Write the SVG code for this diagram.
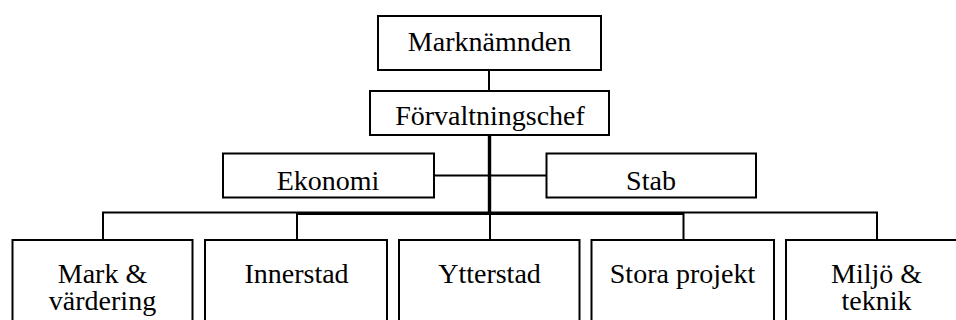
<svg xmlns="http://www.w3.org/2000/svg" width="956" height="320" viewBox="0 0 956 320">
<style>
.box{fill:#fff;stroke:#000;stroke-width:2}
.ln{fill:none;stroke:#000;stroke-width:2}
.t{font-size:28px;fill:#000;text-anchor:middle}
</style>
<rect width="956" height="320" fill="#fff"/>
<g id="connectors">
<line class="ln" x1="489" y1="70" x2="489" y2="91"/>
<line class="ln" x1="489.5" y1="135" x2="489.5" y2="213" style="stroke-width:3.4"/>
<line class="ln" x1="434" y1="175.5" x2="546.5" y2="175.5"/>
<line class="ln" x1="490" y1="213" x2="490" y2="240"/>
<polyline class="ln" points="103,240 103,212.5 877,212.5 877,240"/>
<polyline class="ln" points="297,240 297,214 683.5,214 683.5,240"/>
</g>
<g font-family="'Liberation Serif', 'Times New Roman', 'DejaVu Serif', serif">
<g id="marknamnden">
<rect class="box" x="378" y="16" width="223" height="54"/>
<text class="t" x="489.5" y="51">Marknämnden</text>
</g>
<g id="forvaltningschef">
<rect class="box" x="370" y="91" width="239" height="44"/>
<text class="t" x="490" y="125">Förvaltningschef</text>
</g>
<g id="ekonomi">
<rect class="box" x="223" y="153.5" width="211" height="44"/>
<text class="t" x="328" y="190">Ekonomi</text>
</g>
<g id="stab">
<rect class="box" x="546.5" y="153.5" width="209.5" height="44"/>
<text class="t" x="651" y="190">Stab</text>
</g>
<g id="mark">
<rect class="box" x="12.5" y="240" width="180" height="100"/>
<text class="t" x="102.5" y="283">Mark &amp;<tspan x="102.5" dy="27">värdering</tspan></text>
</g>
<g id="innerstad">
<rect class="box" x="205" y="240" width="182" height="100"/>
<text class="t" x="296.5" y="283">Innerstad</text>
</g>
<g id="ytterstad">
<rect class="box" x="399" y="240" width="180.5" height="100"/>
<text class="t" x="489.5" y="283">Ytterstad</text>
</g>
<g id="stora-projekt">
<rect class="box" x="591.5" y="240" width="182.5" height="100"/>
<text class="t" x="682.5" y="283">Stora projekt</text>
</g>
<g id="miljo">
<rect class="box" x="786" y="240" width="182" height="100"/>
<text class="t" x="876.5" y="283">Miljö &amp;<tspan x="876.5" dy="27">teknik</tspan></text>
</g>
</g>
</svg>
